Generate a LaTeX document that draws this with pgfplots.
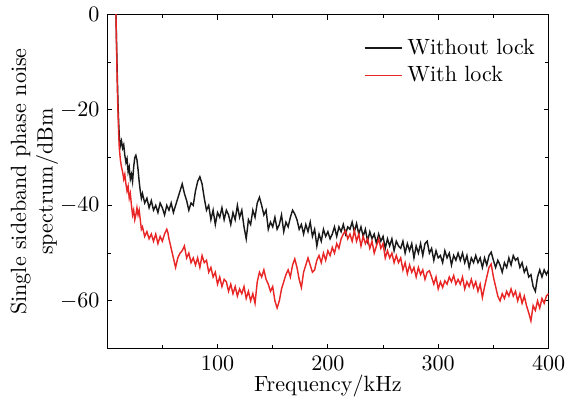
\documentclass[border=0pt]{standalone}
\usepackage{pgfplots}
\pgfplotsset{compat=1.18}
\definecolor{myred}{RGB}{232,38,38}
\definecolor{myblack}{RGB}{25,25,25}
\begin{document}
\begin{tikzpicture}
\begin{axis}[
  scale only axis,
  width=200pt, height=151.4pt,
  xmin=0, xmax=400, ymin=-70, ymax=0,
  xtick={100,200,300,400},
  minor xtick={50,150,250,350},
  ytick={0,-20,-40,-60},
  minor ytick={-10,-30,-50},
  tick align=inside,
  major tick length=2.3pt,
  minor tick length=1.6pt,
  tick style={black, line width=0.5pt},
  axis line style={line width=0.6pt},
  xlabel={Frequency/kHz},
  xlabel style={yshift=5pt},
  ylabel={Single sideband phase noise\\spectrum/dBm},
  ylabel style={align=center, yshift=-6pt},
  legend style={draw=none, fill=none, at={(0.995,0.955)}, anchor=north east, row sep=0pt, font=\normalsize},
  legend cell align=left,
  clip=true,
]
\addplot[myblack, line width=0.65pt] coordinates {
(7.8,2) (8.5,-6) (9,-11) (9.5,-16) (10,-20) (10.5,-23) (11,-25.5) (12,-27.5) (13,-26.5) (14,-28) (15,-27.3) (16,-29.5) (17,-31) (18,-30.2) (19,-33) (20,-32) (21,-34.5) (22,-33.5) (23,-35) (24,-32) (25,-30) (26,-29.5) (27,-30.5) (28,-32.5) (29,-35) (30,-37) (31,-38.5) (32,-37.5) (34,-39.5) (36,-38.5) (38,-40.5) (40,-39) (42,-41) (44,-40) (46,-41.5) (48,-39.5) (50,-40.5) (52,-42) (54,-40) (56,-41) (58,-39.5) (60,-41.5) (62,-40) (64,-38.5) (66,-37) (68,-35.5) (70,-37.5) (72,-39) (74,-41) (76,-39.5) (78,-40) (80,-37) (82,-35) (84,-34) (86,-35.5) (88,-38.5) (90,-41) (92,-40) (94,-43) (96,-41) (98,-44) (100,-41.5) (102,-42.5) (104,-40.5) (106,-43) (108,-41) (110,-42) (112,-44) (114,-41.5) (116,-43) (118,-40) (120,-42.5) (122,-41) (124,-44.5) (126,-47) (128,-43) (130,-44) (132,-41) (134,-42.5) (136,-39.5) (138,-38.3) (140,-40) (142,-42) (144,-41) (146,-45) (148,-43.5) (150,-44.5) (152,-42.5) (154,-45) (156,-44) (158,-42) (160,-45.5) (162,-43.5) (164,-44.5) (166,-42.5) (168,-41) (170,-41.8) (172,-43) (174,-45) (176,-44) (178,-46) (180,-44) (182,-45.5) (184,-43.5) (186,-46.5) (188,-45) (190,-48.5) (192,-46) (194,-47.5) (196,-45) (198,-46.5) (200,-45.5) (202,-47) (204,-46) (206,-44.5) (208,-46.5) (210,-44.5) (212,-45.5) (214,-44) (216,-46) (218,-44.5) (220,-45) (222,-43.5) (224,-45.5) (226,-43.8) (228,-46) (230,-44.5) (232,-46.5) (234,-45) (236,-47.5) (238,-45.5) (240,-47) (242,-46) (244,-48) (246,-46) (248,-47.5) (250,-46.5) (252,-49) (254,-47) (256,-48.5) (258,-47) (260,-49.5) (262,-47.5) (264,-48.5) (266,-49) (268,-47.5) (270,-50) (272,-48) (274,-49.5) (276,-48) (278,-51) (280,-48.5) (282,-50) (284,-48) (286,-50.5) (288,-48) (290,-47.5) (292,-50) (294,-49) (296,-51.5) (298,-49.5) (300,-51) (302,-50.5) (304,-52) (306,-49.5) (308,-51) (310,-50) (312,-52.5) (314,-50.5) (316,-51.5) (318,-50) (320,-51.5) (322,-50) (324,-52) (326,-50.5) (328,-53) (330,-51) (332,-52) (334,-50.5) (336,-52) (338,-51) (340,-53) (342,-51) (344,-52.5) (346,-50.5) (348,-49.8) (350,-51.5) (352,-53) (354,-51.5) (356,-52.5) (358,-54) (360,-52) (362,-53) (364,-51) (366,-52.5) (368,-50.5) (370,-51.5) (372,-51) (374,-53) (376,-52) (378,-54) (380,-53) (382,-55) (384,-54.5) (386,-57) (388,-58) (390,-55) (392,-53.5) (394,-55) (396,-53.5) (398,-54.5) (400,-53.5)
};
\addlegendentry{Without lock}
\addplot[myred, line width=0.65pt] coordinates {
(7.8,2) (8.5,-7) (9,-13) (9.5,-18) (10,-22) (10.5,-25.5) (11,-28) (12,-30.5) (13,-32) (14,-33) (15,-34.5) (16,-33.5) (17,-35.5) (18,-37) (19,-36) (20,-38.5) (21,-37.5) (22,-40) (23,-42) (24,-41) (25,-43) (26,-42) (27,-40.5) (28,-42) (29,-41) (30,-43) (31,-45) (32,-44.5) (34,-46.5) (36,-45.5) (38,-47) (40,-46) (42,-47.5) (44,-46) (46,-48) (48,-46.5) (50,-47.5) (52,-46) (54,-45) (55,-45.7) (56,-47) (58,-49) (60,-51) (62,-53) (64,-51) (66,-50) (68,-49.5) (70,-48.5) (72,-51) (74,-50) (76,-52) (78,-51) (80,-52.5) (82,-51) (84,-53) (86,-50.5) (88,-52) (90,-51.5) (92,-54) (94,-53) (96,-55) (98,-54) (100,-56.5) (102,-55) (104,-57) (106,-55.5) (108,-56) (110,-58) (112,-56.5) (114,-58.5) (116,-57) (118,-59) (120,-57.5) (122,-58.5) (124,-57) (126,-59.5) (128,-58) (130,-60) (132,-58.5) (134,-60.5) (136,-56) (138,-54) (140,-55) (142,-53.5) (144,-55.5) (146,-56.5) (148,-58) (150,-57) (152,-60) (154,-61.5) (156,-60) (158,-57.5) (160,-56) (162,-54.5) (164,-53.5) (166,-55) (168,-52.5) (170,-51.2) (172,-53) (174,-55.5) (176,-57.2) (178,-54) (180,-52.5) (182,-51) (184,-52.5) (186,-54) (188,-53.5) (190,-51.5) (192,-50.5) (194,-52) (196,-50) (198,-51.5) (200,-49.5) (202,-50.5) (204,-48.8) (206,-50) (208,-48) (210,-49) (212,-47) (214,-46) (216,-45.3) (218,-47) (220,-46) (222,-47.5) (224,-45.3) (226,-47.5) (228,-46) (230,-48.5) (232,-46.5) (234,-48) (236,-47) (238,-49) (240,-47.5) (242,-50) (244,-48.5) (246,-47) (248,-49) (250,-48) (252,-51) (254,-49.5) (256,-51) (258,-50) (260,-52) (262,-50.5) (264,-52) (266,-51) (268,-53.5) (270,-52) (272,-54.3) (274,-52.5) (276,-54) (278,-53) (280,-55) (282,-53) (284,-54.5) (286,-53.5) (288,-55.5) (290,-54) (292,-53.7) (294,-55) (296,-56.5) (298,-55) (300,-57.5) (302,-56) (304,-57.2) (306,-55.8) (308,-56.5) (310,-55) (312,-56) (314,-54.7) (316,-56.5) (318,-55.5) (320,-56.5) (322,-55) (324,-57.5) (326,-56) (328,-57) (330,-55.5) (332,-57.2) (334,-56) (336,-58) (338,-56.5) (340,-59.3) (342,-57) (344,-55) (346,-53) (348,-52.3) (350,-55) (352,-57) (354,-59) (356,-60) (358,-58.5) (360,-59.5) (362,-58) (364,-59) (366,-57.5) (368,-59) (370,-58) (372,-60) (374,-58.5) (376,-60.5) (378,-59) (380,-61) (382,-62.5) (384,-64.2) (386,-61) (388,-62) (390,-60) (392,-61.5) (394,-59.5) (396,-60.5) (398,-59) (400,-58.5)
};
\addlegendentry{With lock}
\end{axis}
\path ([xshift=2.5pt]current axis.outer east) ([xshift=-1.5pt]current axis.outer west);
\end{tikzpicture}
\end{document}
